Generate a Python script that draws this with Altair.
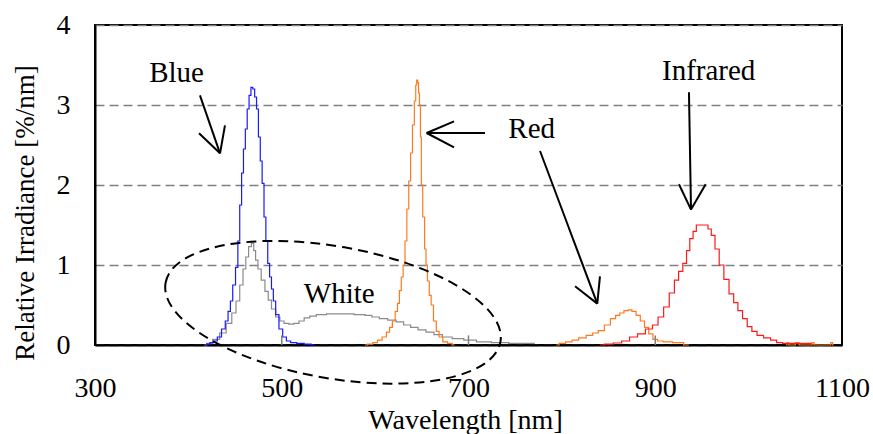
import altair as alt
import pandas as pd

# ---------------- spectra ----------------
blue_nm = [418, 421, 425, 429, 433, 438, 441, 444, 446, 449, 452, 454, 456, 458, 460,
           462, 464, 466, 468, 470, 472, 474, 476, 478, 480, 482, 484, 486, 488, 490,
           492, 495, 499, 503, 507, 512, 520, 528, 535]
blue_val = [0, 0.01, 0.03, 0.05, 0.1, 0.2, 0.3, 0.42, 0.55, 0.75, 0.97, 1.3, 1.75, 2.15, 2.45,
            2.7, 2.95, 3.12, 3.22, 3.2, 3.1, 2.95, 2.6, 2.3, 2.02, 1.6, 1.3, 1.02, 0.85, 0.7,
            0.55, 0.38, 0.2, 0.1, 0.05, 0.03, 0.02, 0.01, 0]

white_nm = [417, 422, 430, 437, 444, 449, 453, 457, 460, 463, 466, 469, 471, 473, 476,
            480, 484, 487, 491, 496, 500, 505, 510, 516, 521, 527, 533, 541, 555, 570,
            585, 593, 600, 609, 618, 627, 634, 642, 650, 659, 667, 677, 688, 702, 715,
            734, 752, 771]
white_val = [0.0, 0.02, 0.07, 0.15, 0.27, 0.4, 0.55, 0.75, 0.95, 1.1, 1.23, 1.27, 1.18, 1.06, 0.95,
             0.81, 0.67, 0.56, 0.45, 0.35, 0.3, 0.27, 0.26, 0.27, 0.3, 0.34, 0.36, 0.38, 0.39, 0.39,
             0.38, 0.37, 0.35, 0.33, 0.31, 0.29, 0.25, 0.22, 0.19, 0.16, 0.13, 0.1, 0.08, 0.06, 0.04,
             0.03, 0.02, 0.02]

red_nm = [589, 595, 600, 605, 610, 614, 617, 620, 623, 625, 627, 629, 631, 633, 635,
          637, 639, 641, 643, 644, 645, 646, 647, 648, 649, 650, 652, 654, 655, 657,
          659, 661, 664, 667, 670, 675, 680, 685]
red_val = [0, 0.01, 0.03, 0.06, 0.1, 0.16, 0.22, 0.3, 0.42, 0.52, 0.68, 0.85, 1.0, 1.3, 1.7,
           2.05, 2.4, 2.75, 3.05, 3.25, 3.31, 3.28, 3.15, 3.0, 2.6, 2.0, 1.6, 1.2, 1.0, 0.8,
           0.62, 0.5, 0.3, 0.17, 0.1, 0.04, 0.02, 0]

red2_nm = [794, 800, 808, 814, 822, 830, 836, 842, 849, 855, 860, 864, 869, 873, 877,
           882, 886, 891, 895, 900, 905, 912, 925, 936]
red2_val = [0, 0.02, 0.04, 0.06, 0.09, 0.12, 0.15, 0.18, 0.25, 0.33, 0.37, 0.4, 0.43, 0.44, 0.42,
            0.37, 0.3, 0.22, 0.14, 0.07, 0.05, 0.04, 0.03, 0.0]

red3_nm = [1040, 1042, 1044, 1049, 1051, 1053, 1055, 1067, 1069, 1071, 1087, 1089, 1091]
red3_val = [0, 0.03, 0, 0, 0.03, 0.03, 0, 0, 0.03, 0, 0, 0.03, 0]

ir_nm = [841, 850, 860, 868, 877, 885, 894, 900, 906, 912, 918, 923, 927, 932, 935,
         939, 942, 946, 950, 955, 958, 962, 966, 971, 976, 982, 986, 991, 996, 1001,
         1006, 1012, 1020, 1027, 1033, 1040, 1066, 1068]
ir_val = [0, 0.01, 0.025, 0.05, 0.1, 0.14, 0.2, 0.25, 0.35, 0.475, 0.65, 0.81, 0.92, 1.02, 1.18,
          1.33, 1.42, 1.5, 1.5, 1.5, 1.45, 1.37, 1.2, 1.0, 0.82, 0.64, 0.53, 0.43, 0.33, 0.23,
          0.17, 0.12, 0.09, 0.06, 0.03, 0.02, 0.02, 0]

# ---------------- axes ----------------
x_ticks = [300, 500, 700, 900, 1100]
y_ticks = [0, 1, 2, 3, 4]
inner_ticks = [500, 700, 900]

# ---------------- annotations (data units) ----------------
label_text = ["Blue", "Red", "Infrared", "White"]
label_x = [387.3, 767.7, 957.2, 561.5]
label_y = [3.284, 2.584, 3.309, 0.521]

arrow_x1 = [412.4, 433.9, 433.9, 717.7, 655.2, 655.2, 776.6, 837.9, 837.9, 936.1, 938.3, 938.3]
arrow_y1 = [3.121, 2.396, 2.396, 2.65, 2.65, 2.65, 2.425, 0.5175, 0.5175, 3.159, 1.6925, 1.6925]
arrow_x2 = [433.9, 411.4, 439.2, 655.2, 684.5, 684.5, 837.9, 814.1, 840.8, 938.3, 925.4, 954.0]
arrow_y2 = [2.396, 2.646, 2.746, 2.65, 2.796, 2.471, 0.5175, 0.734, 0.859, 1.6925, 2.009, 2.009]

ellipse_x = [554.9]
ellipse_y = [0.409]

FONT = "Liberation Serif"


def seg(name, color, nm, val):
    return pd.DataFrame({"wl": nm, "val": val, "seg": name, "col": color})


lines_df = pd.concat([
    seg("white", "#8a8a8a", white_nm, white_val),
    seg("blue", "#1a1aff", blue_nm, blue_val),
    seg("red_main", "#ff7a1f", red_nm, red_val),
    seg("red_side", "#ff7a1f", red2_nm, red2_val),
    seg("red_noise", "#ff7a1f", red3_nm, red3_val),
    seg("ir", "#ff1a1a", ir_nm, ir_val),
], ignore_index=True)

labels_df = pd.DataFrame({"wl": label_x, "val": label_y, "t": label_text})
arrows_df = pd.DataFrame({"wl": arrow_x1, "val": arrow_y1, "wl2": arrow_x2, "val2": arrow_y2})
ticks_df = pd.DataFrame({"wl": inner_ticks, "val": [0] * len(inner_ticks),
                         "val2": [0.12] * len(inner_ticks)})
ellipse_df = pd.DataFrame({"wl": ellipse_x, "val": ellipse_y})

x_scale = alt.Scale(domain=[300, 1100], nice=False, zero=False)
y_scale = alt.Scale(domain=[0, 4], nice=False, zero=False)

x_axis = alt.Axis(values=x_ticks, title="Wavelength [nm]", grid=False, format="d",
                  labelPadding=51, labelBaseline="alphabetic", labelFlush=False,
                  titleFontSize=28, titleX=370, titleY=83.5,
                  titleBaseline="alphabetic", titleAlign="center")
y_axis = alt.Axis(values=y_ticks, title="Relative Irradiance [%/nm]", grid=True, format="d",
                  labelPadding=25, titleFontSize=27, titleX=-62, titleY=187.5,
                  titleAngle=270, titleBaseline="alphabetic", titleAlign="center")

X = alt.X("wl:Q", scale=x_scale, axis=x_axis)
Y = alt.Y("val:Q", scale=y_scale, axis=y_axis)

lines = alt.Chart(lines_df).mark_line(interpolate="step", strokeWidth=1.2).encode(
    x=X, y=Y,
    color=alt.Color("col:N", scale=None),
    detail="seg:N",
)

tick_marks = alt.Chart(ticks_df).mark_rule(color="#808080", strokeWidth=1.5).encode(
    x=X, y=Y, y2="val2:Q",
)

arrows = alt.Chart(arrows_df).mark_rule(color="black", strokeWidth=2).encode(
    x=X, y=Y, x2="wl2:Q", y2="val2:Q",
)

labels = alt.Chart(labels_df).mark_text(font=FONT, fontSize=29, align="center",
                                         baseline="alphabetic", color="black").encode(
    x=X, y=Y, text="t:N",
)

ELLIPSE_PATH = "M -1 0 A 1 0.388 0 1 1 1 0 A 1 0.388 0 1 1 -1 0 Z"
ellipse = alt.Chart(ellipse_df).mark_point(
    shape=ELLIPSE_PATH, filled=False, color="black", stroke="black", strokeWidth=2,
    strokeDash=[10, 6], size=115600, angle=10, opacity=1,
).encode(x=X, y=Y)

chart = alt.layer(lines, tick_marks, arrows, labels, ellipse).properties(
    width=747, height=320,
    autosize="none",
    padding={"left": 95, "top": 25, "right": 31, "bottom": 89},
    background="white",
).configure_view(
    stroke="black", strokeWidth=2
).configure_axis(
    labelFont=FONT, labelFontSize=28, labelColor="black", labelOverlap=False,
    titleFont=FONT, titleFontWeight="normal", titleColor="black", titleLimit=600,
    ticks=False, domainColor="black", domainWidth=2,
    gridDash=[9, 5], gridColor="#808080", gridWidth=1.5, gridOpacity=1,
)

chart.save("out.html", embed_options={"renderer": "svg", "actions": False})
